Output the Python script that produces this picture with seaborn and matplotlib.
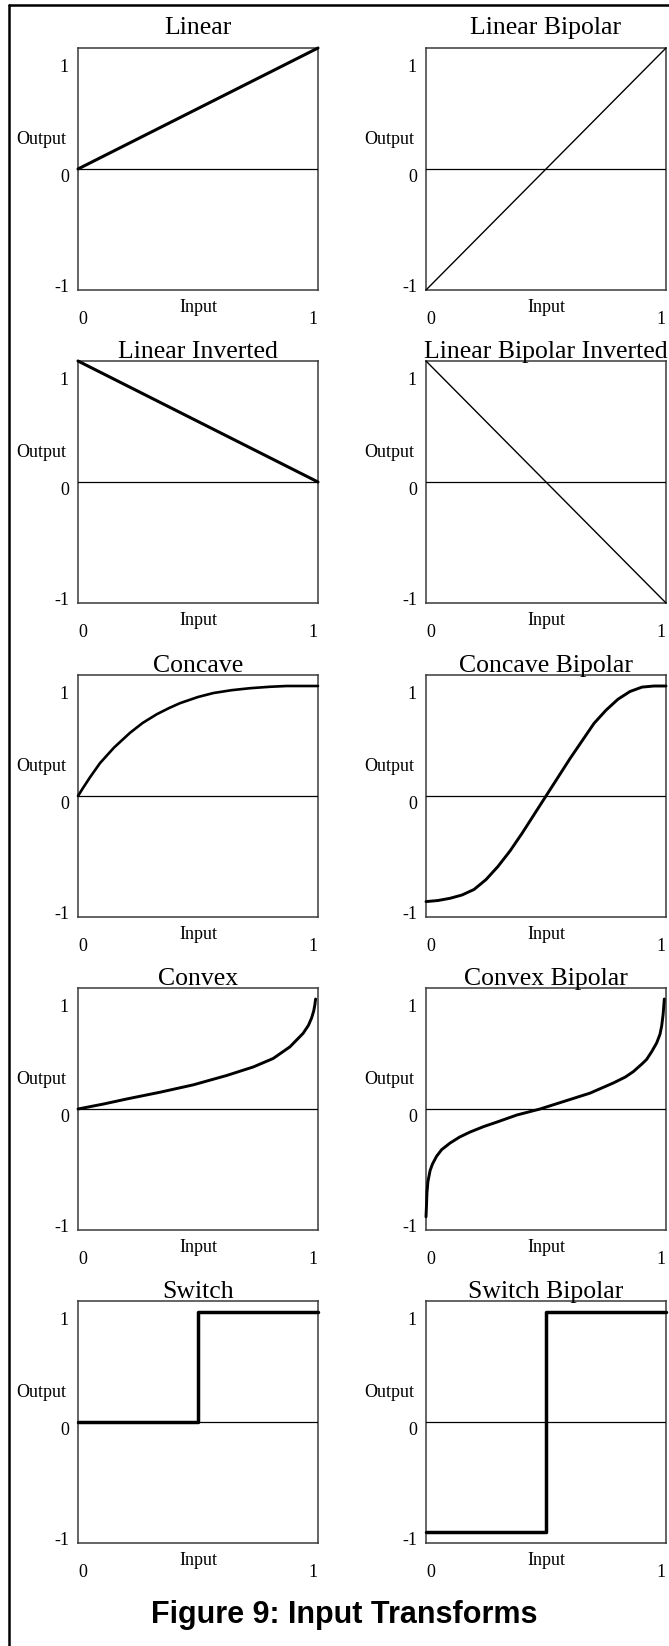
import numpy as np
import pandas as pd
import seaborn as sns
import matplotlib.pyplot as plt
from matplotlib.lines import Line2D
from matplotlib import transforms

sns.set_theme(style="white", rc={"text.color": "black", "xtick.color": "black",
                                 "ytick.color": "black", "axes.labelcolor": "black"})
plt.rcParams['font.family'] = ['Liberation Serif', 'DejaVu Serif']

# curve data
linear_x = [0, 1]
linear_y = [0, 1.1]
linear_bipolar_y = [-1.1, 1.1]
linear_inv_y = [1.1, 0]
linear_bipolar_inv_y = [1.1, -1.1]

concave_x = [0, 0.02, 0.05, 0.092, 0.15, 0.217, 0.27, 0.328, 0.38, 0.425, 0.5, 0.564, 0.64, 0.717, 0.8, 0.869, 0.93, 1.0]
concave_y = [0, 0.07, 0.17, 0.30, 0.44, 0.575, 0.665, 0.743, 0.80, 0.844, 0.90, 0.936, 0.962, 0.98, 0.993, 1.0, 1.0, 1.0]

concave_bip_x = [0, 0.05, 0.1, 0.15, 0.2, 0.25, 0.3, 0.35, 0.4, 0.45, 0.5, 0.55, 0.6, 0.65, 0.7, 0.75, 0.8, 0.85, 0.9, 0.95, 1.0]
concave_bip_y = [-0.96, -0.95, -0.93, -0.9, -0.85, -0.76, -0.64, -0.5, -0.34, -0.17, 0.0,
                 0.17, 0.34, 0.5, 0.66, 0.78, 0.88, 0.95, 0.99, 1.0, 1.0]

convex_x = [0, 0.108, 0.205, 0.343, 0.481, 0.62, 0.73, 0.813, 0.883, 0.938, 0.96, 0.973, 0.982, 0.987, 0.99]
convex_y = [0, 0.046, 0.092, 0.153, 0.22, 0.305, 0.382, 0.459, 0.565, 0.688, 0.76, 0.826, 0.89, 0.948, 1.0]

convex_bip_x = [0, 0.002, 0.004, 0.008, 0.017, 0.027, 0.044, 0.065, 0.1, 0.14, 0.183, 0.24, 0.294, 0.378, 0.475,
                0.572, 0.683, 0.78, 0.83, 0.864, 0.9, 0.919, 0.94, 0.961, 0.975, 0.982, 0.988, 0.993]
convex_bip_y = [-0.98, -0.88, -0.76, -0.66, -0.56, -0.5, -0.43, -0.37, -0.31, -0.255, -0.21, -0.16, -0.12, -0.055, 0.0,
                0.067, 0.144, 0.236, 0.29, 0.34, 0.41, 0.45, 0.52, 0.6, 0.68, 0.755, 0.86, 1.0]

switch_x = [0, 0.5, 0.5, 1]
switch_y = [0, 0, 1, 1]
switch_bip_y = [-1, -1, 1, 1]

panels = [
    ("Linear", linear_x, linear_y, 2.2),
    ("Linear Bipolar", linear_x, linear_bipolar_y, 1.0),
    ("Linear Inverted", linear_x, linear_inv_y, 2.2),
    ("Linear Bipolar Inverted", linear_x, linear_bipolar_inv_y, 1.0),
    ("Concave", concave_x, concave_y, 1.9),
    ("Concave Bipolar", concave_bip_x, concave_bip_y, 2.1),
    ("Convex", convex_x, convex_y, 2.1),
    ("Convex Bipolar", convex_bip_x, convex_bip_y, 2.1),
    ("Switch", switch_x, switch_y, 2.5),
    ("Switch Bipolar", switch_x, switch_bip_y, 2.5),
]

W, H = 669, 1646
fig = plt.figure(figsize=(W / 100, H / 100), dpi=100)

col_left = [78, 426]
row_top = [48, 361, 675, 988, 1301]
box_w, box_h = 240, 242

for i, (name, xs, ys, lw) in enumerate(panels):
    r, c = divmod(i, 2)
    ax = fig.add_axes([col_left[c] / W, 1 - (row_top[r] + box_h) / H, box_w / W, box_h / H])
    df = pd.DataFrame({"Input": xs, "Output": ys})
    sns.lineplot(data=df, x="Input", y="Output", ax=ax, color="black", lw=lw,
                 estimator=None, sort=False, clip_on=False, zorder=5,
                 solid_joinstyle="round", solid_capstyle="round")
    ax.axhline(0, color="black", lw=0.9, zorder=3)
    ax.set_xlim(0, 1)
    ax.set_ylim(-1.1, 1.1)
    for s in ax.spines.values():
        s.set_color("#3a3a3a")
        s.set_linewidth(1.1)

    ax.set_yticks([1, 0, -1])
    ax.set_yticklabels(["1", "0", "-1"], fontsize=13, va="top")
    ax.set_xticks([0, 1])
    ax.set_xticklabels(["0", "1"], fontsize=13)
    xl = ax.get_xticklabels()
    xl[0].set_ha("left")
    xl[1].set_ha("right")
    ax.tick_params(axis="y", length=0, pad=6.5)
    ax.tick_params(axis="x", length=0, pad=15)
    ax.set_xlabel("")
    ax.set_ylabel("")

    ax.text(0.5, -0.074, "Input", transform=ax.transAxes, ha="center", va="center", fontsize=13)
    blend = transforms.blended_transform_factory(ax.transAxes, ax.transData)
    ax.text(-0.154, 0.265, "Output", transform=blend, ha="center", va="center", fontsize=13)

    ax.set_title(name, fontsize=18.5, pad=10 if r == 0 else 2.2)

fig.text(0.514, 31 / H, "Figure 9: Input Transforms", ha="center", va="center",
         fontsize=22, fontweight="bold", family="Liberation Sans", color="black")

# page frame (top and left edges only visible)
fx, fy = 9 / W, 1 - 5 / H
fig.add_artist(Line2D([fx, fx], [0, fy], color="black", lw=1.8))
fig.add_artist(Line2D([fx, 1], [fy, fy], color="black", lw=1.8))

fig.savefig("out.png", dpi=100, facecolor="white")
